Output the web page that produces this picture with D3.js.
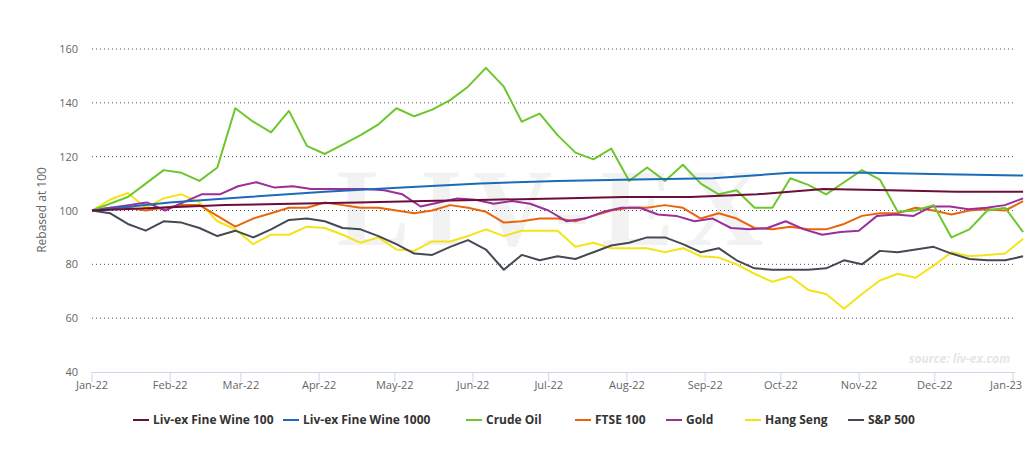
<!DOCTYPE html><html><head><meta charset="utf-8"><script src="https://cdn.jsdelivr.net/npm/d3@7"></script>
<style>body{margin:0;background:#fff;font-family:"Open Sans",Arial,sans-serif}</style></head><body><svg id="c" width="1024" height="450"></svg>
<script>
const yTicks=[40,60,80,100,120,140,160];
const xTickLabels=["Jan-22","Feb-22","Mar-22","Apr-22","May-22","Jun-22","Jul-22","Aug-22","Sep-22","Oct-22","Nov-22","Dec-22","Jan-23"];
const seriesNames=["Liv-ex Fine Wine 100","Liv-ex Fine Wine 1000","Crude Oil","FTSE 100","Gold","Hang Seng","S&P 500"];
const colors=["#6b0f3a","#1c6bb8","#6cc72c","#e8650c","#9a2f9c","#f4e417","#434a54"];
const fw100=[100,101,102,102.5,103,103.5,104,104.5,105,105,106,108,107.5,107,107];
const fw1000=[100,103,105,107,108.5,110,111,111.5,112,114,114,113.5,113];
const crude=[100,102.5,105,110,115,114,111,116,138,133,129,137,124,121,124.5,128,132,138,135,137.5,141,146,153,146,133,136,128,121.5,119,123,111,116,111,117,110,106,107.5,101,101,112,109.5,106,110.5,115,111.5,99.5,100,102,90,93,100,101,92];
const ftse=[100,101,101,100,101,102,102,98,94,97,99,101,101,103,102,101,101,100,99,100,102,101,99.5,95.5,96,97,97,96,98,100,101,101,102,101,97,99,97,93.5,93,94,93,93,95,98,99,99,101,100,98.5,100,100.5,100,103.5];
const gold=[100,101,102,103,100,103,106,106,109,110.5,108.5,109,108,108,108,108,107.5,106,101.5,103,104.5,104,102.5,103.5,102.5,100,96,97,99.5,101,101,98.5,98,96,97,93.5,93,93.5,96,93,91,92,92.5,98,98.5,98,101.5,101.5,100.5,101,102,104.5];
const hangseng=[100,104,106.5,101,104.5,106,103,96,93,87.5,91,91,94,93.5,91,88,90,85.5,85,88.5,88.5,90.5,93,90.5,92.5,92.5,92.5,86.5,88,86,86,86,84.5,86,83,82.5,80,76.5,73.5,75.5,70.5,69,63.5,69,74,76.5,75,79.5,84.5,83,83.5,84,89.5];
const sp500=[100,99,95,92.5,96,95.5,93.5,90.5,92.5,90,93,96.5,97,96,93.5,93,90.5,87.5,84,83.5,86.5,89,85.5,78,83.5,81.5,83,82,84.5,87,88,90,90,87.5,84.5,86,81.5,78.5,78,78,78,78.5,81.5,80,85,84.5,85.5,86.5,84,82,81.5,81.5,83];
const allSeries=[fw100,fw1000,crude,ftse,gold,hangseng,sp500];

const svg=d3.select("#c");
const L=92,R=1013,T=49,B=372;
const t0=new Date(2022,0,1),t1=new Date(2023,0,1);
const x=d3.scaleTime().domain([t0,t1]).range([L,R]);
const y=d3.scaleLinear().domain([40,160]).range([B,T]);
const endDate=new Date(2023,0,5);
svg.append("text").attr("x",555).attr("y",245).attr("text-anchor","middle").attr("font-size",110).attr("font-weight","bold").attr("fill","#f2f2f2").attr("font-family","Liberation Serif,serif").attr("letter-spacing",10).text("LIV-EX");
yTicks.forEach(v=>{
 if(v>40) svg.append("line").attr("x1",L).attr("x2",1015).attr("y1",y(v)).attr("y2",y(v)).attr("stroke","#555").attr("stroke-dasharray","1,3");
 svg.append("text").attr("x",78).attr("y",y(v)+4).attr("text-anchor","end").attr("font-size",11).attr("fill","#666").text(v);
});
svg.append("text").attr("transform","translate(46,210) rotate(-90)").attr("text-anchor","middle").attr("font-size",12).attr("fill","#666").text("Rebased at 100");
svg.append("line").attr("x1",L).attr("x2",1015).attr("y1",B+0.5).attr("y2",B+0.5).attr("stroke","#ccd6eb");
xTickLabels.forEach((lab,i)=>{
 const xx=x(new Date(2022,i,1));
 svg.append("line").attr("x1",xx).attr("x2",xx).attr("y1",B).attr("y2",B+10).attr("stroke","#ccd6eb");
 const last=i===xTickLabels.length-1;
 svg.append("text").attr("x",last?1022:xx).attr("y",B+17).attr("text-anchor",last?"end":"middle").attr("font-size",11).attr("fill","#666").text(lab);
});
svg.append("text").attr("x",1010).attr("y",363).attr("text-anchor","end").attr("font-size",12).attr("font-weight","bold").attr("font-style","italic").attr("fill","#e6e6e6").text("source: liv-ex.com");
const draw=[5,6,3,4,2,1,0];
draw.forEach(k=>{
 const arr=allSeries[k],n=arr.length;
 const dt=i=>new Date(+t0+i*(endDate-t0)/(n-1));
 const line=d3.line().x((d,i)=>x(dt(i))).y(d=>y(d));
 svg.append("path").datum(arr).attr("d",line).attr("fill","none").attr("stroke",colors[k]).attr("stroke-width",2).attr("stroke-linejoin","round");
});
const lx=[133,283,466,575,666,745,848];
seriesNames.forEach((nm,i)=>{
 const g=svg.append("g").attr("transform",`translate(${lx[i]},420)`);
 g.append("line").attr("x1",0).attr("x2",16).attr("stroke",colors[i]).attr("stroke-width",2);
 g.append("text").attr("x",20).attr("y",4).attr("font-size",12).attr("font-weight","bold").attr("fill","#333").text(nm);
});
</script></body></html>
